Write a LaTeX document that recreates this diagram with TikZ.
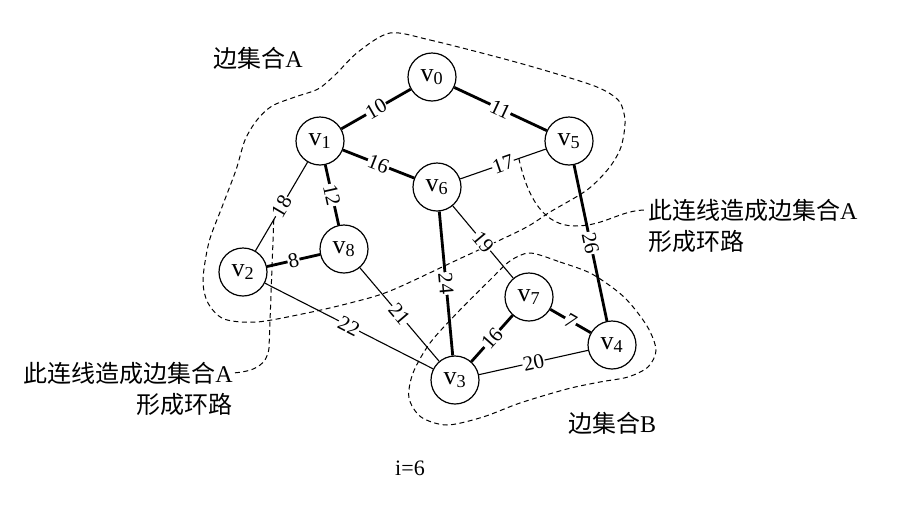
\documentclass[tikz,border=0pt]{standalone}
\usepackage{fontspec}
\setmainfont{Liberation Serif}
\newfontfamily\cjk{Noto Sans CJK SC}
\newcommand{\zhtxt}[1]{{\cjk #1}}
\usetikzlibrary{positioning,calc,backgrounds}
\tikzset{
  vtx/.style={circle,draw,line width=1.2pt,fill=white,minimum size=48pt,
              inner sep=0pt,font=\fontsize{26}{28}\selectfont},
  mst/.style={line width=2.8pt},
  plain/.style={line width=1.1pt},
  wt/.style={sloped,fill=white,inner sep=0.8pt,font=\fontsize{21}{21}\selectfont},
  setline/.style={dash pattern=on 5pt off 3.5pt,line width=1pt},
  note/.style={font=\fontsize{24}{26}\selectfont,inner sep=0pt}
}
\begin{document}
\begin{tikzpicture}[x=1pt,y=-1pt]
  \useasboundingbox (0,0) rectangle (919,520);
  % vertices
  \node[vtx] (v0) at (432,77) {v\textsubscript{0}};
  \node[vtx] (v1) at (320,141) {v\textsubscript{1}};
  \node[vtx] (v5) at (569,141) {v\textsubscript{5}};
  \node[vtx] (v6) at (437,187) {v\textsubscript{6}};
  \node[vtx] (v8) at (344,249) {v\textsubscript{8}};
  \node[vtx] (v2) at (243,272) {v\textsubscript{2}};
  \node[vtx] (v7) at (529,297) {v\textsubscript{7}};
  \node[vtx] (v4) at (612,345) {v\textsubscript{4}};
  \node[vtx] (v3) at (455,380) {v\textsubscript{3}};
  % edges
  \draw[mst] (v0) -- node[wt]{10} (v1);
  \draw[mst] (v0) -- node[wt]{11} (v5);
  \draw[mst] (v1) -- node[wt]{16} (v6);
  \draw[plain] (v6) -- node[wt]{17} (v5);
  \draw[plain] (v1) -- node[wt]{18} (v2);
  \draw[mst] (v1) -- node[wt]{12} (v8);
  \draw[mst] (v2) -- node[wt]{8} (v8);
  \draw[plain] (v2) -- node[wt]{22} (v3);
  \draw[plain] (v8) -- node[wt]{21} (v3);
  \draw[mst] (v6) -- node[wt]{24} (v3);
  \draw[plain] (v6) -- node[wt]{19} (v7);
  \draw[mst] (v5) -- node[wt]{26} (v4);
  \draw[mst] (v3) -- node[wt]{16} (v7);
  \draw[mst] (v7) -- node[wt]{7} (v4);
  \draw[plain] (v3) -- node[wt]{20} (v4);
  \coordinate (c17) at ($(v6)!0.62!(v5)$);
  \coordinate (c18) at ($(v1)!0.6!(v2)$);
  % texts
  \node[note] (setA) at (258,58) {\zhtxt{边集合}A};
  \node[note] (setB) at (612,423) {\zhtxt{边集合}B};
  \node[note,anchor=west] (noteR) at (648,210) {\zhtxt{此连线造成边集合}A};
  \node[note,below=9pt of noteR.south west,anchor=north west] (noteR2) {\zhtxt{形成环路}};
  \node[note,anchor=east] (noteL) at (233,373) {\zhtxt{此连线造成边集合}A};
  \node[note,below=9pt of noteL.south east,anchor=north east] (noteL2) {\zhtxt{形成环路}};
  \node[font=\fontsize{22}{24}\selectfont] (step) at (410,468) {i=6};
  \begin{scope}[on background layer]
    \draw[setline] plot[smooth cycle,tension=0.5] coordinates {
      (390,33) (430,40) (497,57) (547,71) (597,87) (619,101) (625,121)
      (621,147) (609,168) (587,190) (550,212) (523,229) (457,260) (390,291)
      (350,303) (307,313) (257,322) (224,319) (208,303) (203,280) (209,242)
      (222,207) (236,170) (245,140) (257,120) (272,106) (295,97) (318,89)
      (335,75) (358,52)};
    \draw[setline] plot[smooth cycle,tension=0.5] coordinates {
      (530,253) (560,262) (592,274) (624,297) (647,326) (656,350) (648,367)
      (628,377) (600,382) (567,389) (520,403) (483,417) (447,425) (421,417)
      (409,398) (413,373) (430,343) (458,312) (490,280) (510,261)};
    \draw[setline,shorten >=2pt] (c17) .. controls (528,200) and (545,226) .. (575,226)
      .. controls (605,226) and (620,210) .. (noteR.west);
    \draw[setline,shorten >=2pt] (c18) -- (269,348) .. controls (267,365) and (255,371) .. (noteL.east);
  \end{scope}
\end{tikzpicture}
\end{document}
